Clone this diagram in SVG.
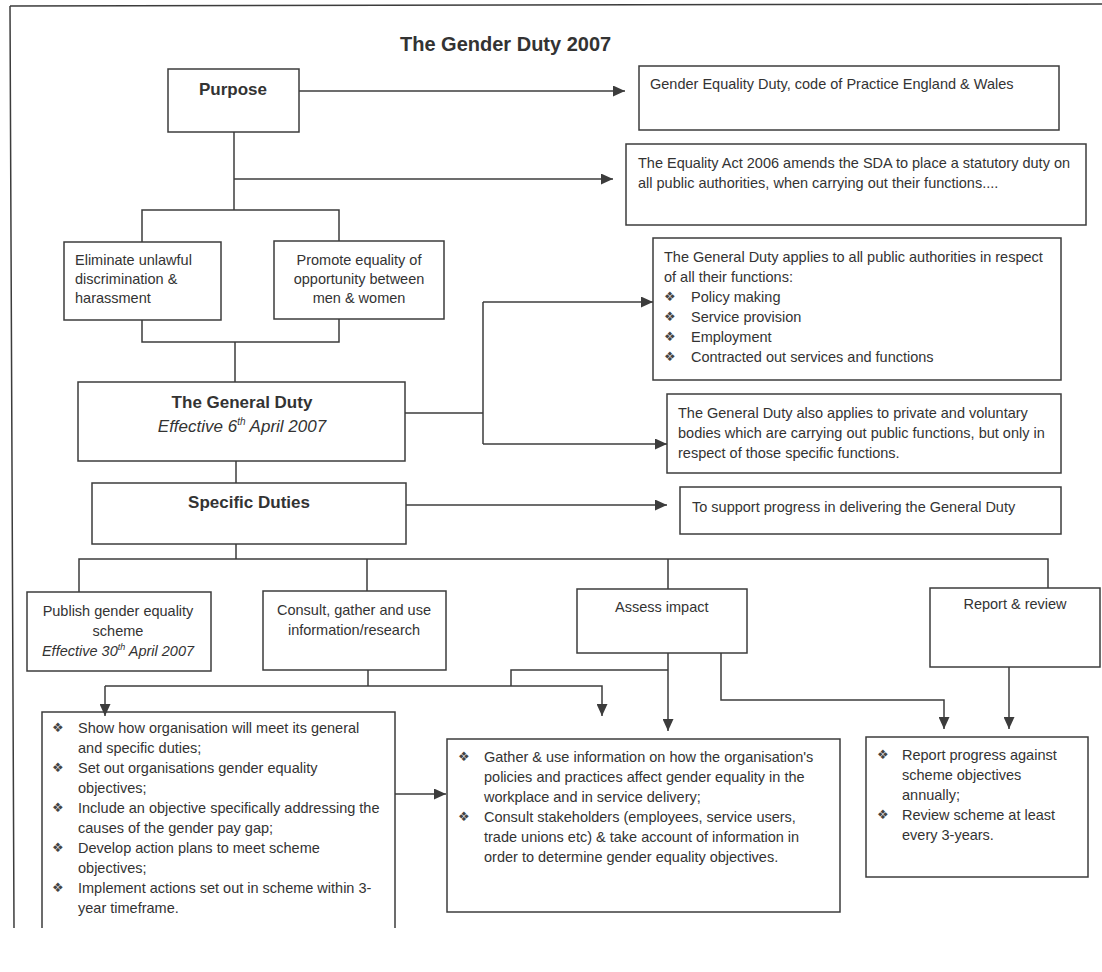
<svg xmlns="http://www.w3.org/2000/svg" width="1102" height="972" viewBox="0 0 1102 972">
<style>
  .box{fill:none;stroke:#3c3c3c;stroke-width:1.5}
  .ln{fill:none;stroke:#3c3c3c;stroke-width:1.5}
  .t{font-family:"Liberation Sans",Arial,sans-serif;font-size:14.5px;fill:#333}
  .c{text-anchor:middle}
  .b{font-weight:bold;font-size:17px}
  .i{font-style:italic}
  .bu{font-family:"DejaVu Sans",sans-serif;font-size:13px;fill:#444}
</style>
<defs>
  <marker id="ah" markerUnits="userSpaceOnUse" markerWidth="12" markerHeight="11" refX="12" refY="5.5" orient="auto">
    <path d="M0,0 L12,5.5 L0,11 Z" fill="#3c3c3c"/>
  </marker>
</defs>
<rect width="1102" height="972" fill="#fff"/>
<g id="frame">
  <path class="ln" d="M10,6 L1102,4 M10,6 L14,928"/>
</g>
<text class="t" x="400" y="51" style="font-weight:bold;font-size:20px">The Gender Duty 2007</text>

<g id="connectors">
  <path class="ln" d="M299,91 H625" marker-end="url(#ah)"/>
  <path class="ln" d="M234,132 V210"/>
  <path class="ln" d="M234,179 H613" marker-end="url(#ah)"/>
  <path class="ln" d="M142,242 V210 H339 V241"/>
  <path class="ln" d="M142,320 V342 H339 V319 M235,342 V382"/>
  <path class="ln" d="M405,413 H483 M483,302 V444"/>
  <path class="ln" d="M483,302 H653" marker-end="url(#ah)"/>
  <path class="ln" d="M483,444 H667" marker-end="url(#ah)"/>
  <path class="ln" d="M236,461 V483"/>
  <path class="ln" d="M406,505 H667" marker-end="url(#ah)"/>
  <path class="ln" d="M236,544 V559 M79,592 V559 H1048 V588 M367,559 V591 M668,559 V589"/>
  <path class="ln" d="M368,670 V686"/>
  <path class="ln" d="M105,686 V716" marker-end="url(#ah)"/>
  <path class="ln" d="M105,686 H602 V716" marker-end="url(#ah)"/>
  <path class="ln" d="M511,686 V670 H668"/>
  <path class="ln" d="M668,653 V731" marker-end="url(#ah)"/>
  <path class="ln" d="M721,653 V700 H944 V729" marker-end="url(#ah)"/>
  <path class="ln" d="M1009,667 V729" marker-end="url(#ah)"/>
  <path class="ln" d="M395,794 H446" marker-end="url(#ah)"/>
</g>

<g id="purpose">
  <rect class="box" x="168" y="69" width="131" height="63"/>
  <text class="t c b" x="233" y="95">Purpose</text>
</g>
<g id="code-of-practice">
  <rect class="box" x="639" y="66" width="420" height="64"/>
  <text class="t" x="650" y="89">Gender Equality Duty, code of Practice England &amp; Wales</text>
</g>
<g id="equality-act">
  <rect class="box" x="626" y="144" width="460" height="81"/>
  <text class="t" x="638" y="168">The Equality Act 2006 amends the SDA to place a statutory duty on</text>
  <text class="t" x="638" y="188">all public authorities, when carrying out their functions....</text>
</g>
<g id="eliminate">
  <rect class="box" x="64" y="242" width="157" height="78"/>
  <text class="t" x="75" y="265">Eliminate unlawful</text>
  <text class="t" x="75" y="284">discrimination &amp;</text>
  <text class="t" x="75" y="303">harassment</text>
</g>
<g id="promote">
  <rect class="box" x="274" y="241" width="170" height="78"/>
  <text class="t c" x="359" y="265">Promote equality of</text>
  <text class="t c" x="359" y="284">opportunity between</text>
  <text class="t c" x="359" y="303">men &amp; women</text>
</g>
<g id="general-applies">
  <rect class="box" x="653" y="238" width="408" height="142"/>
  <text class="t" x="664" y="262">The General Duty applies to all public authorities in respect</text>
  <text class="t" x="664" y="282">of all their functions:</text>
  <text class="bu" x="664" y="301">❖</text><text class="t" x="691" y="302">Policy making</text>
  <text class="bu" x="664" y="321">❖</text><text class="t" x="691" y="322">Service provision</text>
  <text class="bu" x="664" y="341">❖</text><text class="t" x="691" y="342">Employment</text>
  <text class="bu" x="664" y="361">❖</text><text class="t" x="691" y="362">Contracted out services and functions</text>
</g>
<g id="general-duty">
  <rect class="box" x="78" y="382" width="327" height="79"/>
  <text class="t c b" x="242" y="408">The General Duty</text>
  <text class="t c i" x="242" y="432" style="font-size:17px">Effective 6<tspan font-size="10" dy="-7">th</tspan><tspan dy="7"> April 2007</tspan></text>
</g>
<g id="private-bodies">
  <rect class="box" x="667" y="394" width="394" height="79"/>
  <text class="t" x="678" y="418">The General Duty also applies to private and voluntary</text>
  <text class="t" x="678" y="438">bodies which are carrying out public functions, but only in</text>
  <text class="t" x="678" y="458">respect of those specific functions.</text>
</g>
<g id="specific-duties">
  <rect class="box" x="92" y="483" width="314" height="61"/>
  <text class="t c b" x="249" y="508">Specific Duties</text>
</g>
<g id="support-progress">
  <rect class="box" x="680" y="487" width="381" height="47"/>
  <text class="t" x="692" y="512">To support progress in delivering the General Duty</text>
</g>
<g id="publish">
  <rect class="box" x="27" y="592" width="184" height="79"/>
  <text class="t c" x="118" y="616">Publish gender equality</text>
  <text class="t c" x="118" y="636">scheme</text>
  <text class="t c i" x="118" y="656">Effective 30<tspan font-size="9" dy="-6">th</tspan><tspan dy="6"> April 2007</tspan></text>
</g>
<g id="consult">
  <rect class="box" x="263" y="591" width="183" height="79"/>
  <text class="t c" x="354" y="615">Consult, gather and use</text>
  <text class="t c" x="354" y="635">information/research</text>
</g>
<g id="assess">
  <rect class="box" x="577" y="589" width="170" height="64"/>
  <text class="t" x="615" y="612">Assess impact</text>
</g>
<g id="report">
  <rect class="box" x="930" y="588" width="170" height="79"/>
  <text class="t c" x="1015" y="609">Report &amp; review</text>
</g>
<g id="scheme-list">
  <path class="box" d="M42,928 V712 H395 V928"/>
  <text class="bu" x="52" y="732">❖</text><text class="t" x="78" y="733">Show how organisation will meet its general</text>
  <text class="t" x="78" y="753">and specific duties;</text>
  <text class="bu" x="52" y="772">❖</text><text class="t" x="78" y="773">Set out organisations gender equality</text>
  <text class="t" x="78" y="793">objectives;</text>
  <text class="bu" x="52" y="812">❖</text><text class="t" x="78" y="813">Include an objective specifically addressing the</text>
  <text class="t" x="78" y="833">causes of the gender pay gap;</text>
  <text class="bu" x="52" y="852">❖</text><text class="t" x="78" y="853">Develop action plans to meet scheme</text>
  <text class="t" x="78" y="873">objectives;</text>
  <text class="bu" x="52" y="892">❖</text><text class="t" x="78" y="893">Implement actions set out in scheme within 3-</text>
  <text class="t" x="78" y="913">year timeframe.</text>
</g>
<g id="gather-list">
  <rect class="box" x="447" y="739" width="393" height="173"/>
  <text class="bu" x="458" y="761">❖</text><text class="t" x="484" y="762">Gather &amp; use information on how the organisation's</text>
  <text class="t" x="484" y="782">policies and practices affect gender equality in the</text>
  <text class="t" x="484" y="802">workplace and in service delivery;</text>
  <text class="bu" x="458" y="821">❖</text><text class="t" x="484" y="822">Consult stakeholders (employees, service users,</text>
  <text class="t" x="484" y="842">trade unions etc) &amp; take account of information in</text>
  <text class="t" x="484" y="862">order to determine gender equality objectives.</text>
</g>
<g id="report-list">
  <rect class="box" x="866" y="737" width="222" height="140"/>
  <text class="bu" x="877" y="759">❖</text><text class="t" x="902" y="760">Report progress against</text>
  <text class="t" x="902" y="780">scheme objectives</text>
  <text class="t" x="902" y="800">annually;</text>
  <text class="bu" x="877" y="819">❖</text><text class="t" x="902" y="820">Review scheme at least</text>
  <text class="t" x="902" y="840">every 3-years.</text>
</g>
</svg>
